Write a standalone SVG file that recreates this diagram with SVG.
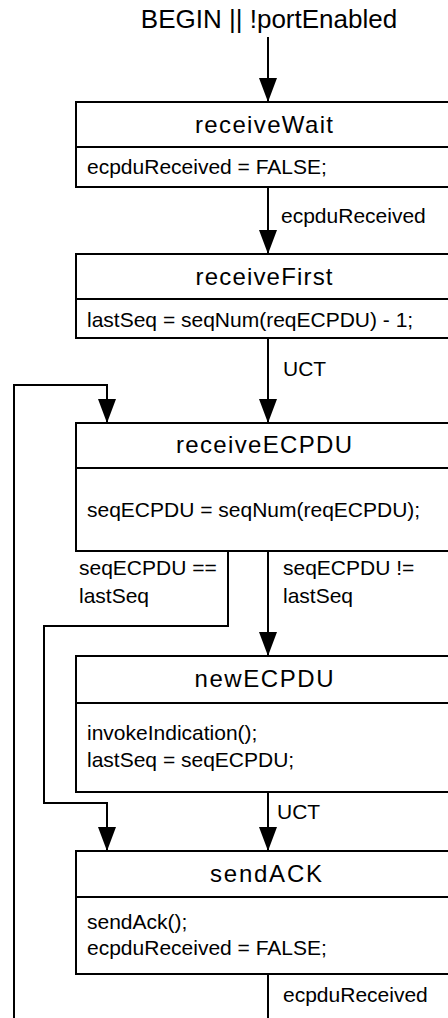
<svg xmlns="http://www.w3.org/2000/svg" width="448" height="1018" viewBox="0 0 448 1018">
<style>
  .box { fill: #ffffff; stroke: #000000; stroke-width: 2; }
  .div { stroke: #000000; stroke-width: 2; }
  .title { font-family: "Liberation Sans", Arial, sans-serif; font-size: 24px; fill: #000; text-anchor: middle; }
  .body { font-family: "Liberation Sans", Arial, sans-serif; font-size: 21px; fill: #000; }
  .lbl { font-family: "Liberation Sans", Arial, sans-serif; font-size: 21px; fill: #000; }
  .top { font-family: "Liberation Sans", Arial, sans-serif; font-size: 26px; fill: #000; text-anchor: middle; }
  .wire { fill: none; stroke: #000000; stroke-width: 2; }
</style>
<defs>
  <marker id="arr" viewBox="0 0 24 18" refX="24" refY="9" markerWidth="24" markerHeight="18" markerUnits="userSpaceOnUse" orient="auto">
    <path d="M0,0 L24,9 L0,18 z" fill="#000"/>
  </marker>
</defs>
<rect width="448" height="1018" fill="#ffffff"/>

<text class="top" x="269" y="28">BEGIN || !portEnabled</text>

<g id="receiveWait">
  <rect class="box" x="76" y="102" width="390" height="85"/>
  <line class="div" x1="76" y1="147" x2="466" y2="147"/>
  <text class="title" x="264" y="133" textLength="138" lengthAdjust="spacing">receiveWait</text>
  <text class="body" x="87" y="174">ecpduReceived = FALSE;</text>
</g>

<g id="receiveFirst">
  <rect class="box" x="76" y="254" width="390" height="84"/>
  <line class="div" x1="76" y1="299" x2="466" y2="299"/>
  <text class="title" x="264" y="285" textLength="137" lengthAdjust="spacing">receiveFirst</text>
  <text class="body" x="87" y="327">lastSeq = seqNum(reqECPDU) - 1;</text>
</g>

<g id="receiveECPDU">
  <rect class="box" x="76" y="423" width="390" height="128"/>
  <line class="div" x1="76" y1="468" x2="466" y2="468"/>
  <text class="title" x="264" y="453" textLength="176" lengthAdjust="spacing">receiveECPDU</text>
  <text class="body" x="87" y="517">seqECPDU = seqNum(reqECPDU);</text>
</g>

<g id="newECPDU">
  <rect class="box" x="76" y="656" width="390" height="136"/>
  <line class="div" x1="76" y1="703" x2="466" y2="703"/>
  <text class="title" x="264" y="687" textLength="139" lengthAdjust="spacing">newECPDU</text>
  <text class="body" x="87" y="740">invokeIndication();</text>
  <text class="body" x="87" y="767">lastSeq = seqECPDU;</text>
</g>

<g id="sendACK">
  <rect class="box" x="76" y="851" width="390" height="123"/>
  <line class="div" x1="76" y1="897" x2="466" y2="897"/>
  <text class="title" x="266" y="882" textLength="112" lengthAdjust="spacing">sendACK</text>
  <text class="body" x="87" y="929">sendAck();</text>
  <text class="body" x="87" y="955">ecpduReceived = FALSE;</text>
</g>

<g id="connectors">
  <path class="wire" d="M268,37 L268,102" marker-end="url(#arr)"/>
  <path class="wire" d="M268,187 L268,254" marker-end="url(#arr)"/>
  <text class="lbl" x="281" y="223">ecpduReceived</text>
  <path class="wire" d="M268,338 L268,423" marker-end="url(#arr)"/>
  <text class="lbl" x="283" y="376">UCT</text>
  <path class="wire" d="M14,1018 L14,385 L107,385 L107,423" marker-end="url(#arr)"/>
  <path class="wire" d="M268,551 L268,656" marker-end="url(#arr)"/>
  <text class="lbl" x="283" y="575">seqECPDU !=</text>
  <text class="lbl" x="283" y="603">lastSeq</text>
  <path class="wire" d="M228,551 L228,626 L44,626 L44,803 L107,803 L107,851" marker-end="url(#arr)"/>
  <text class="lbl" x="79" y="575">seqECPDU ==</text>
  <text class="lbl" x="79" y="603">lastSeq</text>
  <path class="wire" d="M268,792 L268,851" marker-end="url(#arr)"/>
  <text class="lbl" x="277" y="819">UCT</text>
  <path class="wire" d="M268,974 L268,1018"/>
  <text class="lbl" x="283" y="1002">ecpduReceived</text>
</g>
</svg>
